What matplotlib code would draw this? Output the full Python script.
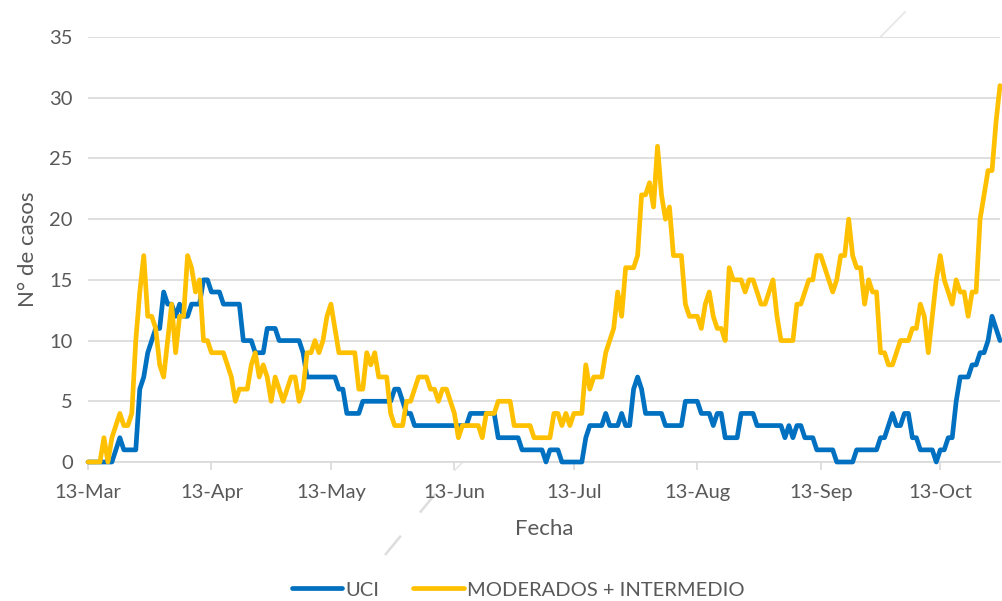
import matplotlib
matplotlib.use("Agg")
import matplotlib.pyplot as plt
import matplotlib.dates as mdates
from matplotlib.lines import Line2D
import pandas as pd

start_date = "2020-03-13"
n_days = 230

uci = ([0] * 6 + [0, 1, 2, 1, 1, 1, 1] + [6, 7, 9, 10, 11, 11, 14]
       + [13, 13, 12, 13, 12, 12, 13, 13, 13] + [15, 15, 14, 14, 14, 13, 13, 13, 13, 13]
       + [10, 10, 10, 9, 9, 9, 11, 11, 11] + [10, 10, 10, 10, 10, 10, 9]
       + [7] * 8 + [6, 6, 4, 4, 4, 4] + [5] * 8 + [6, 6, 5, 4, 4]
       + [3] * 14 + [4] * 7 + [2] * 6 + [1] * 5 + [1, 0, 1, 1, 1] + [0] * 6
       + [2, 3, 3, 3, 3] + [4, 3, 3, 3, 4, 3, 3] + [6, 7, 6] + [4] * 5 + [3] * 5
       + [5] * 4 + [4] * 3 + [3, 4, 4, 2] + [2, 2, 2] + [4] * 4 + [3] * 7
       + [2, 3, 2, 3, 3] + [2] * 3 + [1] * 5 + [0] * 5 + [1] * 6 + [2, 2]
       + [3, 4, 3, 3, 4, 4] + [2, 2] + [1] * 4 + [0] + [1, 1] + [2, 2]
       + [5, 7, 7, 7, 8, 8] + [9, 9, 10, 12, 11, 10])

moderados = ([0, 0, 0, 0] + [2, 0, 2, 3, 4, 3, 3, 4] + [10, 14, 17, 12, 12, 11, 8, 7]
             + [10, 13, 9, 12, 12, 17, 16, 14, 15] + [10, 10, 9, 9, 9, 9, 8, 7, 5, 6, 6, 6]
             + [8, 9, 7, 8, 7, 5, 7, 6, 5, 6, 7, 7, 5, 6] + [9, 9, 10, 9, 10, 12, 13, 11, 9, 9, 9, 9]
             + [9, 6, 6, 9, 8, 9, 7, 7, 7, 4, 3, 3, 3] + [5, 5, 6, 7, 7, 7, 6, 6, 5, 6, 6, 5, 4]
             + [2, 3, 3, 3, 3, 3, 2, 4, 4, 4, 5, 5, 5, 5] + [3, 3, 3, 3, 3, 2, 2, 2, 2, 2]
             + [4, 4, 3, 4, 3, 4, 4, 4] + [8, 6, 7, 7, 7, 9, 10, 11, 14, 12]
             + [16, 16, 16, 17, 22, 22, 23, 21, 26, 22, 20, 21, 17, 17, 17]
             + [13, 12, 12, 12, 11, 13, 14, 12, 11, 11, 10]
             + [16, 15, 15, 15, 14, 15, 15, 14, 13, 13, 14, 15]
             + [12, 10, 10, 10, 10, 13, 13, 14, 15, 15, 17, 17]
             + [16, 15, 14, 15, 17, 17, 20, 17, 16, 16, 13, 15, 14, 14]
             + [9, 9, 8, 8, 9, 10, 10, 10, 11, 11, 13, 12]
             + [9, 12, 15, 17, 15, 14, 13, 15, 14, 14, 12, 14, 14]
             + [20, 22, 24, 24, 28, 31])

labels = ["UCI", "MODERADOS + INTERMEDIO"]
colors = ["#0070C0", "#FFC000"]

dates = pd.date_range(start_date, periods=n_days)
text_color = "#595959"
font = "Lato"

fig = plt.figure(figsize=(10.02, 6.01), dpi=100)
ax = fig.add_axes([88 / 1002, 139 / 601, 912 / 1002, 425 / 601])

for vals, lab, col in zip([uci, moderados], labels, colors):
    ax.plot(dates, vals, color=col, lw=3.4, label=lab, solid_joinstyle="round",
            solid_capstyle="round", clip_on=False, zorder=3)

ax.set_ylim(0, 35)
ax.set_yticks(range(0, 36, 5))
ax.set_xlim(dates[0], dates[-1])
ax.xaxis.set_major_locator(mdates.MonthLocator(bymonthday=13))
ax.xaxis.set_major_formatter(mdates.DateFormatter("%d-%b"))

ax.grid(axis="y", color="#D9D9D9", lw=1.2)
ax.set_axisbelow(True)
for s in ["top", "right", "left"]:
    ax.spines[s].set_visible(False)
ax.spines["bottom"].set_color("#D9D9D9")
ax.spines["bottom"].set_linewidth(1.2)
ax.tick_params(axis="y", length=0, pad=11, labelsize=14.5, labelcolor=text_color)
ax.tick_params(axis="x", length=6, color="#D9D9D9", width=1.2, pad=10,
               labelsize=14.5, labelcolor=text_color)
for t in ax.get_xticklabels() + ax.get_yticklabels():
    t.set_fontfamily(font)

ax.set_xlabel("Fecha", fontsize=16, color=text_color, family=font, labelpad=13)
ax.set_ylabel("N° de casos", fontsize=16, color=text_color, family=font, labelpad=8)

# faint leftover diagonal stroke
fig.add_artist(Line2D([385 / 1002, 455 / 1002], [1 - 555 / 601, 1 - 470 / 601],
                      transform=fig.transFigure, color="#DDDDDD", lw=1.8,
                      linestyle=(0, (10, 12)), zorder=0))
fig.add_artist(Line2D([455 / 1002, 905 / 1002], [1 - 470 / 601, 1 - 12 / 601],
                      transform=fig.transFigure, color="#E6E6E6", lw=1.2, zorder=0))

leg = fig.legend(loc="lower center", bbox_to_anchor=(0.517, -0.026), ncol=2, frameon=False,
                 prop={"family": font, "size": 14.5}, handlelength=2.5, columnspacing=1.7,
                 handletextpad=0.15)
for t in leg.get_texts():
    t.set_color(text_color)

fig.savefig("out.png", dpi=100)
